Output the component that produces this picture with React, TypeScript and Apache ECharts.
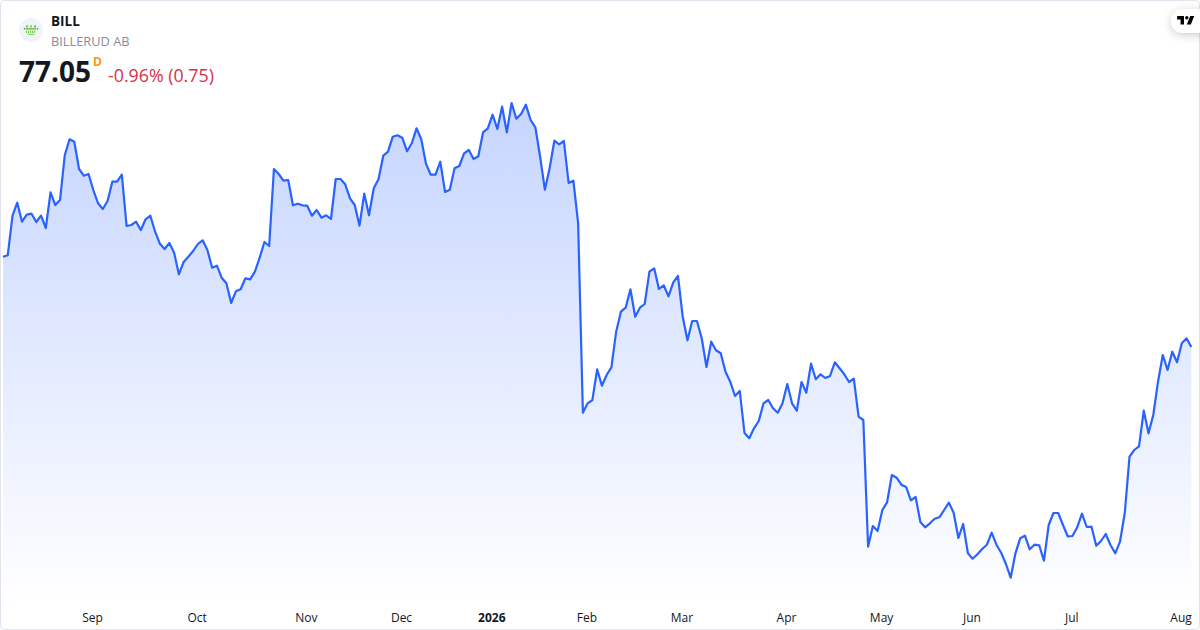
import React, { useEffect, useRef } from "react";
import * as echarts from "echarts";

const symbol = "BILL";
const company = "BILLERUD AB";
const lastPrice = "77.05";
const interval = "D";
const change = "-0.96% (0.75)";

const closes = [
  86.08, 86.22, 90.18, 91.48, 89.58, 90.28, 90.38, 89.55, 90.18, 88.95, 92.52, 91.25, 91.75, 96.25, 97.82, 97.58,
  94.85, 94.18, 94.35, 92.75, 91.42, 90.85, 91.65, 93.58, 93.58, 94.28, 89.15, 89.25, 89.58, 88.75, 89.82, 90.18,
  88.58, 87.38, 86.85, 87.45, 86.48, 84.32, 85.55, 86.08, 86.65, 87.35, 87.72, 86.75, 84.98, 85.18, 83.98, 83.42,
  81.45, 82.62, 82.82, 83.92, 83.82, 84.58, 85.98, 87.55, 87.15, 94.85, 94.35, 93.68, 93.75, 91.22, 91.38,
  91.22, 91.18, 90.18, 90.75, 89.98, 90.22, 89.85, 93.85, 93.85, 93.32, 91.92, 91.25, 89.18, 92.38, 90.22, 92.92,
  93.82, 96.18, 96.58, 98.08, 98.22, 97.98, 96.62, 97.42, 98.92, 97.82, 95.35, 94.28, 94.28, 95.58, 92.55, 92.78,
  94.92, 95.15, 96.42, 96.75, 95.85, 96.12, 98.52, 98.92, 100.28, 98.85, 101.08, 98.52, 101.45, 99.88, 100.35,
  101.28, 99.75, 99.02, 96.08, 92.78, 94.92, 97.68, 97.32, 97.65, 93.45, 93.68, 89.42,
  70.48, 71.42, 71.75, 74.82, 73.18, 74.25, 75.02, 78.58, 80.58, 80.98, 82.82, 80.08, 80.98, 81.35, 84.58, 84.92,
  82.85, 83.22, 82.12, 83.48, 84.15, 80.08, 77.72, 79.65, 79.65, 77.92, 75.05, 77.58, 76.72, 76.42, 74.58, 73.58,
  72.15, 72.65, 68.45, 67.92, 68.92, 69.65, 71.42, 71.75, 70.92, 70.48, 71.42, 73.35, 71.42, 70.68, 73.55, 72.48,
  75.38, 73.82, 74.32, 73.95, 74.15, 75.52, 74.92, 74.32, 73.55, 73.88, 70.08, 69.75,
  57.08, 59.15, 58.65, 60.75, 61.52, 64.25, 63.98, 63.28, 63.05, 61.72, 62.05, 59.55, 59.02, 59.42, 59.88, 60.02,
  60.75, 61.48, 60.48, 57.95, 59.35, 56.42, 55.88, 56.32, 56.85, 57.28, 58.48, 57.28, 56.48, 55.35, 53.98, 56.42,
  57.92, 58.18, 56.82, 57.28, 57.22, 55.68, 59.25, 60.45, 60.45, 59.25, 58.12, 58.15, 59.02, 60.38, 59.05, 59.08,
  57.18, 57.65, 58.35, 57.25, 56.42, 57.58, 60.42, 66.08, 66.75, 67.12, 70.68, 68.42,
  70.25, 73.58, 76.25, 74.75, 76.58, 75.52, 77.42, 77.92, 77.05,
];

const tickLabels = ["Sep", "Oct", "Nov", "Dec", "2026", "Feb", "Mar", "Apr", "May", "Jun", "Jul", "Aug"];
const tickPositions = [19, 41, 64, 84, 103, 123, 143, 165, 185, 204, 225, 248];
const categories = closes.map((_, i) => {
  const at = tickPositions.indexOf(i);
  return at >= 0 ? tickLabels[at] : "";
});

const tvLogo = "M14 6H2v6h6v9h6V6Zm12 15h-7l6-15h7l-6 15Zm-7-9a3 3 0 1 0 0-6 3 3 0 0 0 0 6Z";
echarts.graphic.registerShape("tvlogo", echarts.graphic.extendPath(tvLogo, {}) as any);

const FONT = '"Open Sans", "Noto Sans", sans-serif';

export default function App() {
  const ref = useRef<HTMLDivElement>(null);
  useEffect(() => {
    document.body.style.margin = "0";
    const chart = echarts.init(ref.current!, null, { renderer: "svg" });
    const crownDots = [
      [27, 26.4], [31, 26.2], [35, 26.4],
      [24.6, 28.8], [27, 28.8], [29, 28.8], [31, 28.8], [33, 28.8], [35, 28.8], [37.4, 28.8],
    ];
    const crownBars = [26, 28, 30, 32, 34];
    chart.setOption({
      animation: false,
      backgroundColor: "#ffffff",
      grid: { left: 2.3, width: 1189, top: 0, height: 604 },
      xAxis: {
        type: "category",
        data: categories,
        boundaryGap: false,
        axisLine: { show: false },
        axisTick: { show: false },
        splitLine: { show: false },
        axisLabel: {
          interval: 0,
          margin: 7,
          padding: [0, 1.5, 0, 0],
          fontFamily: FONT,
          fontSize: 12,
          color: "#131722",
          formatter: (v: string) => (v === "2026" ? "{b|2026}" : v),
          rich: { b: { fontFamily: FONT, fontSize: 12, fontWeight: "bold", color: "#131722" } },
        },
      },
      yAxis: { type: "value", min: 51.35, max: 111.75, show: false },
      series: [
        {
          type: "line",
          data: closes,
          showSymbol: false,
          symbol: "none",
          lineStyle: { color: "#2962ff", width: 2.2, join: "round" },
          areaStyle: {
            origin: "start",
            color: {
              type: "linear", x: 0, y: 103, x2: 0, y2: 606, global: true,
              colorStops: [
                { offset: 0, color: "rgba(41,98,255,0.38)" },
                { offset: 1, color: "rgba(41,98,255,0)" },
              ],
            },
          },
        },
      ],
      graphic: [
        { type: "rect", z: 50, shape: { x: 0.5, y: 0.5, width: 1199, height: 629, r: 4 }, style: { fill: "none", stroke: "#e0e3eb", lineWidth: 1 } },
        { type: "circle", z: 60, shape: { cx: 31, cy: 30, r: 12 }, style: { fill: "#f0f3fa" } },
        ...crownDots.map(([cx, cy]) => ({ type: "circle", z: 61, shape: { cx, cy, r: 0.9 }, style: { fill: "#5cb531" } })),
        ...crownBars.map((x) => ({ type: "rect", z: 61, shape: { x, y: 30.4, width: 1.1, height: 2.6 }, style: { fill: "#7cc75a" } })),
        { type: "line", z: 61, shape: { x1: 27.5, y1: 34.3, x2: 34.5, y2: 34.3 }, style: { stroke: "#7cc75a", lineWidth: 1 } },
        { type: "text", z: 60, style: { x: 51, y: 21, text: symbol, font: `bold 13.5px ${FONT}`, fill: "#131722", verticalAlign: "middle" } },
        { type: "text", z: 60, style: { x: 51, y: 41, text: company, font: `12.8px ${FONT}`, fill: "#8a8d96", verticalAlign: "middle" } },
        { type: "text", z: 60, style: { x: 19, y: 71, text: lastPrice, font: `bold 28px ${FONT}`, fill: "#131722", verticalAlign: "middle" } },
        { type: "text", z: 60, style: { x: 93, y: 61, text: interval, font: `bold 12px ${FONT}`, fill: "#ff9800", verticalAlign: "middle" } },
        { type: "text", z: 60, style: { x: 108, y: 74.5, text: change, font: `17.8px ${FONT}`, fill: "#d9304a", verticalAlign: "middle" } },
        { type: "rect", z: 70, shape: { x: 1171, y: 9, width: 50, height: 24, r: 12 }, style: { fill: "#ffffff", shadowBlur: 10, shadowColor: "rgba(0,0,0,0.2)", shadowOffsetY: 2 } },
        { type: "tvlogo", z: 71, x: 1176, y: 12.6, scaleX: 0.57, scaleY: 0.57, style: { fill: "#000000" } },
      ],
    });
    return () => chart.dispose();
  }, []);
  return <div ref={ref} style={{ width: 1200, height: 630, position: "absolute", left: 0, top: 0 }} />;
}
